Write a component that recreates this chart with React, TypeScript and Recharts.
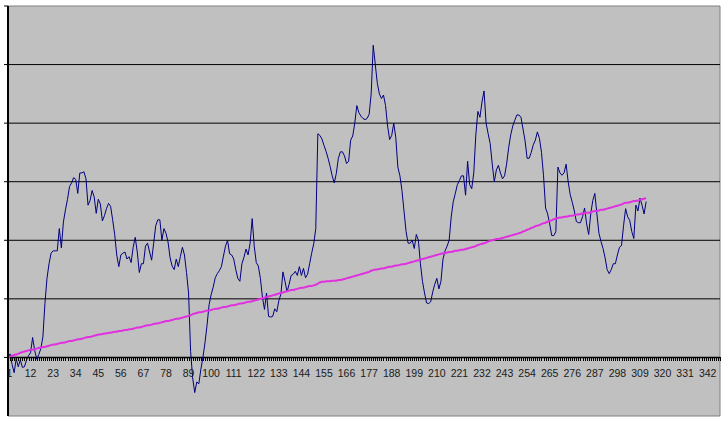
import React from "react";
import {
  ComposedChart,
  Line,
  XAxis,
  YAxis,
  CartesianGrid,
  ReferenceLine,
} from "recharts";

// Category positions on the x axis (the axis runs past the end of the data)
const categoryCount = 348;
const categories: number[] = Array.from({ length: categoryCount }, (_, k) => k + 1);

// Labels printed under the axis
const xTickLabels = [
  1, 12, 23, 34, 45, 56, 67, 78, 89, 100, 111, 122, 133, 144, 155, 166, 177,
  188, 199, 210, 221, 232, 243, 254, 265, 276, 287, 298, 309, 320, 331, 342,
];

const yTicks = [-1, 0, 1, 2, 3, 4, 5, 6];
const gridValues = [1, 2, 3, 4, 5];

// Navy series
const navySeries = [
  0.0, 0.06, -0.12, -0.26, -0.02, -0.16, -0.04, -0.17, -0.16, -0.05,
  0.03, 0.08, 0.34, 0.12, -0.03, 0.05, 0.15, 0.35, 0.92, 1.35,
  1.6, 1.78, 1.82, 1.82, 1.82, 2.2, 1.87, 2.31, 2.52, 2.7,
  2.92, 2.98, 3.07, 3.04, 2.8, 3.15, 3.15, 3.17, 3.05, 2.6,
  2.68, 2.85, 2.74, 2.46, 2.7, 2.62, 2.33, 2.42, 2.54, 2.63,
  2.58, 2.35, 2.1, 1.75, 1.55, 1.75, 1.78, 1.8, 1.68, 1.72,
  1.62, 1.88, 2.05, 1.8, 1.45, 1.6, 1.6, 1.9, 1.95, 1.8,
  1.66, 1.95, 2.25, 2.35, 2.35, 2.0, 2.2, 2.12, 1.97, 1.7,
  1.56, 1.5, 1.68, 1.55, 1.72, 1.88, 1.75, 1.45, 1.1, 0.1,
  -0.35, -0.6, -0.42, -0.45, -0.2, 0.0, 0.25, 0.55, 0.9, 1.07,
  1.2, 1.36, 1.43, 1.48, 1.55, 1.73, 1.9, 2.0, 1.77, 1.75,
  1.68, 1.5, 1.35, 1.3, 1.6, 1.71, 1.85, 1.75, 1.95, 2.37,
  1.9, 1.62, 1.56, 1.35, 1.03, 0.82, 1.1, 0.7, 0.69, 0.7,
  0.83, 0.78, 0.97, 1.08, 1.46, 1.3, 1.12, 1.25, 1.4, 1.42,
  1.47, 1.4, 1.55, 1.4, 1.52, 1.36, 1.42, 1.6, 1.78, 1.94,
  2.2, 3.82, 3.79, 3.73, 3.62, 3.52, 3.4, 3.26, 3.1, 2.98,
  3.14, 3.4, 3.51, 3.51, 3.44, 3.31, 3.35, 3.71, 3.78, 4.0,
  4.3, 4.18, 4.12, 4.08, 4.06, 4.08, 4.15, 4.5, 5.33, 5.0,
  4.68, 4.5, 4.42, 4.48, 4.3, 3.95, 3.72, 3.79, 4.0, 3.75,
  3.25, 3.1, 2.85, 2.5, 2.15, 1.95, 1.95, 2.0, 1.86, 2.1,
  2.0, 1.6, 1.3, 1.1, 0.93, 0.92, 0.95, 1.12, 1.25, 1.35,
  1.17, 1.3, 1.68, 1.82, 1.9, 2.0, 2.4, 2.66, 2.8, 2.95,
  3.02, 3.1, 3.1, 2.77, 3.35, 2.95, 2.88, 3.15, 3.8, 4.2,
  4.1, 4.36, 4.55, 4.0, 3.82, 3.65, 3.3, 3.0, 3.2, 3.28,
  3.15, 3.05, 3.1, 3.3, 3.58, 3.8, 3.95, 4.05, 4.14, 4.14,
  4.1, 3.9, 3.7, 3.4, 3.4, 3.5, 3.63, 3.71, 3.85, 3.74,
  3.5, 3.1, 2.55, 2.45, 2.28, 2.08, 2.08, 2.15, 3.25, 3.15,
  3.11, 3.15, 3.3, 3.0, 2.78, 2.65, 2.5, 2.32, 2.3, 2.3,
  2.4, 2.55, 2.28, 2.1, 2.45, 2.68, 2.8, 2.45, 2.12, 1.98,
  1.86, 1.7, 1.5, 1.43, 1.5, 1.6, 1.6, 1.75, 1.88, 1.91,
  2.25, 2.54, 2.4, 2.34, 2.15, 2.03, 2.6, 2.5, 2.72, 2.6,
  2.45, 2.66,
];

// Magenta trend series
const trendSeries = [
  0.0, 0.01, 0.03, 0.04, 0.05, 0.06, 0.08, 0.09, 0.1, 0.11,
  0.12, 0.13, 0.13, 0.14, 0.15, 0.16, 0.17, 0.18, 0.18, 0.19,
  0.2, 0.21, 0.22, 0.22, 0.23, 0.24, 0.25, 0.25, 0.26, 0.27,
  0.28, 0.28, 0.29, 0.3, 0.31, 0.31, 0.32, 0.33, 0.34, 0.35,
  0.35, 0.36, 0.37, 0.38, 0.39, 0.39, 0.4, 0.41, 0.41, 0.42,
  0.42, 0.43, 0.44, 0.44, 0.45, 0.45, 0.46, 0.47, 0.47, 0.48,
  0.48, 0.49, 0.5, 0.51, 0.51, 0.52, 0.53, 0.54, 0.55, 0.55,
  0.56, 0.57, 0.58, 0.58, 0.59, 0.6, 0.61, 0.62, 0.62, 0.63,
  0.64, 0.65, 0.66, 0.66, 0.67, 0.68, 0.69, 0.7, 0.71, 0.72,
  0.74, 0.75, 0.76, 0.77, 0.77, 0.78, 0.79, 0.8, 0.8, 0.81,
  0.82, 0.83, 0.83, 0.84, 0.85, 0.86, 0.86, 0.87, 0.88, 0.89,
  0.89, 0.9, 0.91, 0.92, 0.92, 0.93, 0.94, 0.95, 0.95, 0.96,
  0.97, 0.98, 0.99, 1.0, 1.01, 1.02, 1.03, 1.04, 1.05, 1.06,
  1.07, 1.08, 1.09, 1.1, 1.11, 1.12, 1.13, 1.14, 1.15, 1.15,
  1.16, 1.17, 1.18, 1.19, 1.19, 1.2, 1.21, 1.22, 1.22, 1.23,
  1.24, 1.26, 1.28, 1.29, 1.29, 1.3, 1.3, 1.3, 1.31, 1.31,
  1.31, 1.32, 1.32, 1.33, 1.34, 1.35, 1.36, 1.37, 1.38, 1.39,
  1.4, 1.41, 1.42, 1.43, 1.44, 1.45, 1.46, 1.48, 1.49, 1.5,
  1.5, 1.51, 1.52, 1.52, 1.53, 1.54, 1.55, 1.55, 1.56, 1.57,
  1.57, 1.58, 1.59, 1.59, 1.6, 1.61, 1.62, 1.63, 1.64, 1.65,
  1.66, 1.67, 1.68, 1.69, 1.7, 1.71, 1.72, 1.73, 1.74, 1.75,
  1.76, 1.77, 1.78, 1.78, 1.79, 1.8, 1.8, 1.81, 1.82, 1.82,
  1.83, 1.84, 1.84, 1.85, 1.86, 1.87, 1.88, 1.89, 1.9, 1.92,
  1.93, 1.94, 1.95, 1.96, 1.98, 1.99, 2.0, 2.01, 2.02, 2.02,
  2.03, 2.04, 2.05, 2.06, 2.07, 2.08, 2.09, 2.1, 2.11, 2.12,
  2.13, 2.15, 2.16, 2.18, 2.19, 2.21, 2.22, 2.24, 2.25, 2.26,
  2.28, 2.29, 2.3, 2.32, 2.33, 2.34, 2.36, 2.37, 2.38, 2.39,
  2.39, 2.4, 2.4, 2.41, 2.42, 2.42, 2.43, 2.44, 2.44, 2.45,
  2.46, 2.46, 2.47, 2.47, 2.48, 2.49, 2.5, 2.5, 2.51, 2.52,
  2.52, 2.53, 2.54, 2.55, 2.56, 2.57, 2.58, 2.59, 2.6, 2.61,
  2.63, 2.64, 2.64, 2.65, 2.66, 2.67, 2.67, 2.68, 2.69, 2.7,
  2.71, 2.72,
];

const chartData = categories.map((c, k) => ({
  cat: c,
  value: k < navySeries.length ? navySeries[k] : null,
  trend: k < trendSeries.length ? trendSeries[k] : null,
}));

const WIDTH = 727;
const HEIGHT = 423;
const Y_AXIS_W = 8;
const X_AXIS_H = 7;
const MARGIN = { top: 6, right: 7, bottom: 0, left: 0 };
const PLOT_H = HEIGHT - MARGIN.top - MARGIN.bottom - X_AXIS_H;
const Y_MIN = yTicks[0];
const Y_MAX = yTicks[yTicks.length - 1];
// distance from the plot bottom up to the zero line (x axis crosses at 0)
const BELOW_ZERO = (PLOT_H * (0 - Y_MIN)) / (Y_MAX - Y_MIN);

const labelSet = new Set(xTickLabels);
const FONT = "'Liberation Sans', Arial, Helvetica, sans-serif";

const XTick = (props: any) => {
  const { x, y, payload } = props;
  const zeroY = y - BELOW_ZERO;
  const v = payload?.value;
  const px = Math.round(x) + 0.5;
  return (
    <g>
      <line
        x1={px}
        x2={px}
        y1={zeroY}
        y2={zeroY + 4}
        stroke="#000"
        strokeWidth={1}
        shapeRendering="crispEdges"
      />
      {labelSet.has(v) && (
        <text
          x={x + (v === 1 ? 1.5 : 0)}
          y={zeroY + 20}
          textAnchor="middle"
          fontFamily={FONT}
          fontSize={10.5}
          fill="#1a1a1a"
        >
          {v}
        </text>
      )}
    </g>
  );
};

const EmptyTick = () => <g />;

export default function App() {
  return (
    <div
      style={{
        position: "absolute",
        left: 0,
        top: 0,
        width: WIDTH,
        height: HEIGHT,
        background: "#ffffff",
      }}
    >
      <ComposedChart width={WIDTH} height={HEIGHT} data={chartData} margin={MARGIN}>
        <CartesianGrid fill="#C0C0C0" fillOpacity={1} horizontal={false} vertical={false} />
        <YAxis
          type="number"
          domain={[Y_MIN, Y_MAX]}
          ticks={yTicks}
          allowDataOverflow
          width={Y_AXIS_W}
          axisLine={{ stroke: "#000", strokeWidth: 2 }}
          tickLine={{ stroke: "#000" }}
          tickSize={4}
          tick={EmptyTick}
        />
        <XAxis
          dataKey="cat"
          type="category"
          scale="point"
          interval={0}
          height={X_AXIS_H}
          axisLine={false}
          tickLine={false}
          tickSize={0}
          tickMargin={0}
          tick={(p: any) => <XTick {...p} />}
        />
        <ReferenceLine y={Y_MAX} stroke="#808080" strokeWidth={1} />
        <ReferenceLine y={Y_MIN} stroke="#808080" strokeWidth={1} />
        <ReferenceLine x={categories[categories.length - 1]} stroke="#808080" strokeWidth={1} />
        {gridValues.map((g) => (
          <ReferenceLine key={g} y={g} stroke="#000" strokeWidth={1} />
        ))}
        <ReferenceLine y={0} stroke="#000" strokeWidth={1.6} />
        <Line
          dataKey="value"
          type="linear"
          stroke="#000080"
          strokeWidth={1}
          dot={false}
          activeDot={false}
          isAnimationActive={false}
        />
        <Line
          dataKey="trend"
          type="linear"
          stroke="#E030E0"
          strokeWidth={2}
          dot={false}
          activeDot={false}
          isAnimationActive={false}
        />
      </ComposedChart>
    </div>
  );
}
